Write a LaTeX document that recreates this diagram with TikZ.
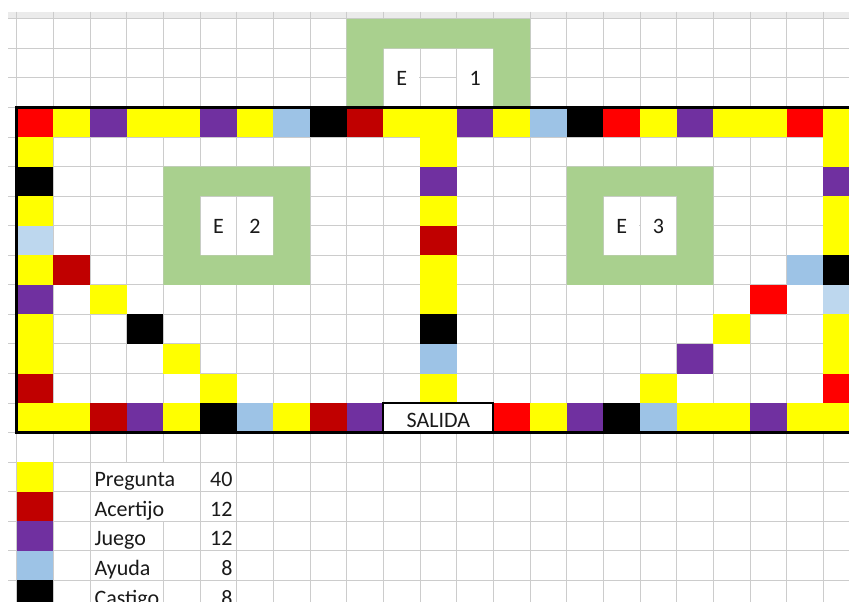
\documentclass[tikz,border=0pt]{standalone}
\usepackage{fontspec}
\setmainfont{Carlito}
\definecolor{cY}{HTML}{FFFF00}
\definecolor{cR}{HTML}{FF0000}
\definecolor{cDR}{HTML}{C00000}
\definecolor{cP}{HTML}{7030A0}
\definecolor{cLB}{HTML}{9DC3E6}
\definecolor{cVLB}{HTML}{BDD7EE}
\definecolor{cK}{HTML}{000000}
\definecolor{cG}{HTML}{A9D08E}
\definecolor{gridc}{HTML}{CCCCCC}
\definecolor{txtc}{HTML}{1A1A1A}
\def\xo{16.7}\def\yo{107.5}\def\cw{36.67}\def\rh{29.56}
\newcommand\cellfill[3]{\fill[#3] ({\xo+(#1)*\cw},{\yo+(#2)*\rh}) rectangle ({\xo+(#1+1)*\cw},{\yo+(#2+1)*\rh});}
\newcommand\maskcell[4]{\fill[white] ({\xo+(#1)*\cw+0.7},{\yo+(#2)*\rh+0.7}) rectangle ({\xo+(#3)*\cw-0.7},{\yo+(#4)*\rh-0.7});}
\newcommand\greenframe[8]{\fill[cG,even odd rule] ({\xo+(#1)*\cw},{\yo+(#2)*\rh}) rectangle ({\xo+(#3)*\cw},{\yo+(#4)*\rh}) ({\xo+(#5)*\cw},{\yo+(#6)*\rh}) rectangle ({\xo+(#7)*\cw},{\yo+(#8)*\rh});}
\tikzset{
  gridline/.style={draw=gridc,line width=1pt},
  txt/.style={inner sep=0pt,text=txtc,font=\fontsize{22}{26}\selectfont}
}
\begin{document}
\begin{tikzpicture}[x=1pt,y=-1pt]
\useasboundingbox (0,0) rectangle (849,602);
\clip (0,0) rectangle (849,602);
\fill[white] (0,0) rectangle (849,602);
% header band
\fill[black!8] (8,11.7) rectangle (849,{\yo-3*\rh});
% grid
\foreach \k in {-3,...,17} \draw[gridline] (8,{\yo+\k*\rh}) -- (849,{\yo+\k*\rh});
\foreach \c in {0,1,2,5,6,...,23} \draw[gridline] ({\xo+\c*\cw},11.7) -- ({\xo+\c*\cw},602);
\draw[gridline] ({\xo+3*\cw},11.7) -- ({\xo+3*\cw},{\yo+12*\rh});
\draw[gridline] ({\xo+4*\cw},11.7) -- ({\xo+4*\cw},{\yo+12*\rh});
\draw[gridline] ({\xo+4*\cw},{\yo+14*\rh}) -- ({\xo+4*\cw},602);
% merged cells (hide inner grid lines)
\maskcell{10}{-2}{11}{0}
\maskcell{12}{-2}{13}{0}
\maskcell{5}{3}{6}{5}
\maskcell{6}{3}{7}{5}
\maskcell{16}{3}{17}{5}
\maskcell{17}{3}{18}{5}
% green frames
\greenframe{9}{-3}{14}{0}{10}{-2}{13}{0}
\greenframe{4}{2}{8}{6}{5}{3}{7}{5}
\greenframe{15}{2}{19}{6}{16}{3}{18}{5}
% top row
\foreach \col [count=\i from 0] in {cR,cY,cP,cY,cY,cP,cY,cLB,cK,cDR,cY,cY,cP,cY,cLB,cK,cR,cY,cP,cY,cY,cR,cY}
  {\cellfill{\i}{0}{\col}}
% bottom row
\foreach \col [count=\i from 0] in {cY,cY,cDR,cP,cY,cK,cLB,cY,cDR,cP}
  {\cellfill{\i}{10}{\col}}
\foreach \col [count=\i from 13] in {cR,cY,cP,cK,cLB,cY,cY,cP,cY,cY}
  {\cellfill{\i}{10}{\col}}
% left column
\foreach \col [count=\i from 1] in {cY,cK,cY,cVLB,cY,cP,cY,cY,cDR}
  {\cellfill{0}{\i}{\col}}
% middle column
\foreach \col [count=\i from 1] in {cY,cP,cY,cDR,cY,cY,cK,cLB,cY}
  {\cellfill{11}{\i}{\col}}
% right column
\foreach \col [count=\i from 1] in {cY,cP,cY,cY,cK,cVLB,cY,cY,cR}
  {\cellfill{22}{\i}{\col}}
% diagonals
\cellfill{1}{5}{cDR}
\cellfill{2}{6}{cY}
\cellfill{3}{7}{cK}
\cellfill{4}{8}{cY}
\cellfill{5}{9}{cY}
\cellfill{21}{5}{cLB}
\cellfill{20}{6}{cR}
\cellfill{19}{7}{cY}
\cellfill{18}{8}{cP}
\cellfill{17}{9}{cY}
% start box
\draw[line width=2pt,fill=white] ({\xo+10*\cw},{\yo+10*\rh}) rectangle ({\xo+13*\cw},{\yo+11*\rh});
% board border
\draw[line width=3pt] (\xo,\yo) rectangle (880,{\yo+11*\rh});
\node[txt,anchor=base] (salida) at ({\xo+11.5*\cw},{\yo+11*\rh-5.4}) {SALIDA};
% station labels
\node[txt,anchor=base] (e1a) at ({\xo+10.5*\cw},{\yo-\rh+7.5}) {E};
\node[txt,anchor=base] (e1b) at ({\xo+12.5*\cw},{\yo-\rh+7.5}) {1};
\node[txt,anchor=base] (e2a) at ({\xo+5.5*\cw},{\yo+4*\rh+7.5}) {E};
\node[txt,anchor=base] (e2b) at ({\xo+6.5*\cw},{\yo+4*\rh+7.5}) {2};
\node[txt,anchor=base] (e3a) at ({\xo+16.5*\cw},{\yo+4*\rh+7.5}) {E};
\node[txt,anchor=base] (e3b) at ({\xo+17.5*\cw},{\yo+4*\rh+7.5}) {3};
% legend
\maskcell{2}{12}{5}{13}
\maskcell{2}{13}{5}{14}
\maskcell{2}{14}{4}{15}
\maskcell{2}{15}{4}{16}
\maskcell{2}{16}{4}{17}
\cellfill{0}{12}{cY}
\cellfill{0}{13}{cDR}
\cellfill{0}{14}{cP}
\cellfill{0}{15}{cLB}
\cellfill{0}{16}{cK}
\foreach \name/\num [count=\i from 13] in {Pregunta/40,Acertijo/12,Juego/12,Ayuda/8,Castigo/8}{
  \node[txt,anchor=base west] (lab\i) at ({\xo+2*\cw+4.3},{\yo+\i*\rh-5}) {\name};
  \node[txt,anchor=base east] (num\i) at ({\xo+6*\cw-4},{\yo+\i*\rh-5}) {\num};
}
\end{tikzpicture}
\end{document}
